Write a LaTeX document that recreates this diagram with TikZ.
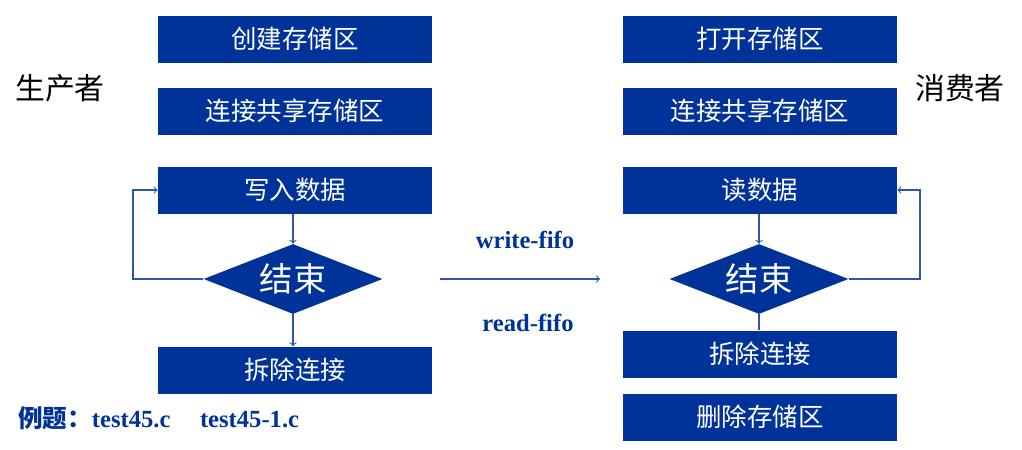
\documentclass[tikz,border=0pt]{standalone}
\usepackage{fontspec}
\setmainfont{Liberation Serif}
\newfontfamily\cjk{Noto Sans CJK SC}
\usetikzlibrary{shapes.geometric}
\definecolor{boxblue}{HTML}{003399}
\definecolor{linkblue}{HTML}{2F55A8}
\tikzset{
  stepbox/.style={rectangle,fill=boxblue,text=white,minimum width=274*0.02cm,minimum height=47*0.02cm,inner sep=0pt,font=\cjk\fontsize{14.5}{16}\selectfont},
  endbox/.style={diamond,fill=boxblue,text=white,aspect=2.56,minimum width=179*0.02cm,minimum height=70*0.02cm,inner sep=0pt,font=\cjk\fontsize{19}{20}\selectfont},
  flow/.style={draw=linkblue,line width=0.6pt},
  sidelabel/.style={font=\cjk\fontsize{17}{18}\selectfont},
  fifolabel/.style={text=boxblue,font=\bfseries\fontsize{14}{16}\selectfont}
}
\begin{document}
\begin{tikzpicture}[x=0.02cm,y=-0.02cm]
\useasboundingbox (0,0) rectangle (1022,450);
% producer
\node[stepbox] (p1) at (295,39) {创建存储区};
\node[stepbox] (p2) at (295,111) {连接共享存储区};
\node[stepbox] (p3) at (295,190) {写入数据};
\node[endbox] (pd) at (293,279) {结束};
\node[stepbox] (p4) at (295,370) {拆除连接};
\node[sidelabel] (prod) at (60,88) {生产者};
% consumer
\node[stepbox] (c1) at (760,39) {打开存储区};
\node[stepbox] (c2) at (760,111) {连接共享存储区};
\node[stepbox] (c3) at (760,190) {读数据};
\node[endbox] (cd) at (759,279) {结束};
\node[stepbox] (c4) at (760,354) {拆除连接};
\node[stepbox] (c5) at (760,417) {删除存储区};
\node[sidelabel] (cons) at (960,88) {消费者};
% links
\draw[flow,->] (p3.south -| pd.north) -- (pd.north);
\draw[flow,->] (pd.south) -- (pd.south |- p4.north);
\draw[flow,->] (pd.west) -- (133,279) |- (p3.west);
\draw[flow,->] (c3.south -| cd.north) -- (cd.north);
\draw[flow] (cd.south) -- (cd.south |- c4.north);
\draw[flow,->] (cd.east) -- (920,279) |- (c3.east);
\coordinate (a1) at (440,279);
\coordinate (a2) at (600,279);
\draw[flow,->] (a1) -- (a2);
\node[fifolabel] (wf) at (525,240) {write-fifo};
\node[fifolabel] (rf) at (528,323) {read-fifo};
\node[fifolabel,anchor=west] (ex) at (12,418) {{\cjk 例题：}test45.c\hspace{1.2em}test45-1.c};
\end{tikzpicture}
\end{document}
